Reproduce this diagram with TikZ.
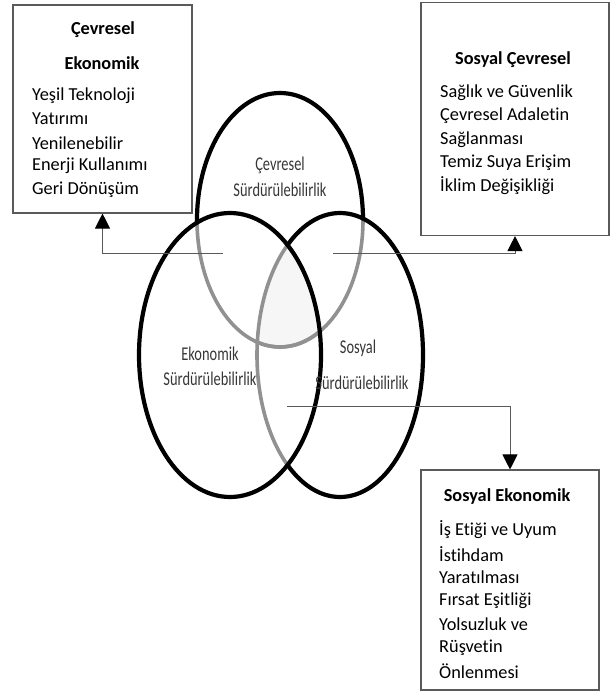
\documentclass[tikz,border=0pt]{standalone}
\usepackage{xcolor}
\usepackage{fontspec}
\setmainfont[Ligatures={TeX,NoCommon}]{Carlito}
\newfontfamily\condfont[FakeStretch=0.74,Ligatures={TeX,NoCommon}]{Carlito}
\usepackage{tikz}
\usetikzlibrary{arrows.meta}
\definecolor{lightgray}{RGB}{145,145,145}
\definecolor{linegray}{RGB}{90,90,90}
\definecolor{centerfill}{RGB}{246,246,246}
\definecolor{labeltext}{RGB}{55,55,55}

\begin{document}
\begin{tikzpicture}[x=1pt,y=-1pt,
    infobox/.style={draw=linegray,line width=1.1pt,inner sep=0pt},
    circ/.style={line width=4.2pt},
    greycirc/.style={line width=3.6pt,draw=lightgray},
    conn/.style={draw=linegray,line width=0.9pt,-{Triangle[width=15pt,length=15pt,color=black]}},
    head/.style={font=\fontsize{18.3}{20}\selectfont\bfseries},
    item/.style={anchor=west,inner sep=0pt,font=\fontsize{18.3}{20}\selectfont},
    ovallabel/.style={text=labeltext,font=\condfont\fontsize{19.5}{20}\selectfont}]
                \useasboundingbox (0,0) rectangle (611,695);
                \begin{scope}
                    \clip (230,355) ellipse (91 and 142);
                    \clip (340,355) ellipse (83 and 142);
                    \fill[centerfill] (280,220) ellipse (83 and 127);
                \end{scope}
                \begin{scope}
                    \clip (230,355) ellipse (91 and 142);
                    \draw[greycirc] (280,220) ellipse (83 and 127);
                    \draw[greycirc] (340,355) ellipse (83 and 142);
                \end{scope}
                \begin{scope}
                    \clip (340,355) ellipse (83 and 142);
                    \draw[greycirc] (280,220) ellipse (83 and 127);
                \end{scope}
                \begin{scope}[even odd rule]
                    \clip (0,0) rectangle (611,695) (230,355) ellipse (91 and 142);
                    \begin{scope}
                        \clip (0,0) rectangle (611,695) (340,355) ellipse (83 and 142);
                        \draw[circ] (280,220) ellipse (83 and 127);
                    \end{scope}
                    \draw[circ] (340,355) ellipse (83 and 142);
                \end{scope}
                \draw[circ] (230,355) ellipse (91 and 142);
                \node[ovallabel] (cevlbl) at (280,165) {Çevresel};
                \node[ovallabel] (cevsur) at (280,190) {Sürdürülebilirlik};
                \node[ovallabel] (ekolbl) at (210,354) {Ekonomik};
                \node[ovallabel] (ekosur) at (210,379) {Sürdürülebilirlik};
                \node[ovallabel] (soslbl) at (358,348) {Sosyal};
                \node[ovallabel] (sossur) at (362,383) {Sürdürülebilirlik};
                \node[infobox,minimum width=179pt,minimum height=208pt] (cevekobox) at (102.5,109) {};
                \node[infobox,minimum width=188pt,minimum height=233pt] (soscevbox) at (515,119) {};
                \node[infobox,minimum width=178pt,minimum height=220pt] (sosekobox) at (510,580) {};
                \node[head] (cevekoh1) at (103,30) {Çevresel};
                \node[head] (cevekoh2) at (102,63) {Ekonomik};
                \node[item] at (32,96) {Yeşil Teknoloji};
                \node[item] at (32,119) {Yatırımı};
                \node[item] at (32,143) {Yenilenebilir};
                \node[item] at (32,166) {Enerji Kullanımı};
                \node[item] at (32,190) {Geri Dönüşüm};
                \node[head] (soscevh) at (513,60) {Sosyal Çevresel};
                \node[item] at (440,93) {Sağlık ve Güvenlik};
                \node[item] at (440,116) {Çevresel Adaletin};
                \node[item] at (440,140) {Sağlanması};
                \node[item] at (440,163) {Temiz Suya Erişim};
                \node[item] at (440,186) {İklim Değişikliği};
                \node[head] (sosekoh) at (507,497) {Sosyal Ekonomik};
                \node[item] at (439,530) {İş Etiği ve Uyum};
                \node[item] at (439,554) {İstihdam};
                \node[item] at (439,577) {Yaratılması};
                \node[item] at (439,601) {Fırsat Eşitliği};
                \node[item] at (439,624) {Yolsuzluk ve};
                \node[item] at (439,648) {Rüşvetin};
                \node[item] at (439,671) {Önlenmesi};
                \coordinate (cevekostart) at (223,253);
                \coordinate (soscevstart) at (333,253);
                \coordinate (sosekostart) at (287,406);
                \draw[conn] (cevekostart) -| (cevekobox.south);
                \draw[conn] (soscevstart) -| (soscevbox.south);
                \draw[conn] (sosekostart) -| (sosekobox.north);
            \end{tikzpicture}
\end{document}
